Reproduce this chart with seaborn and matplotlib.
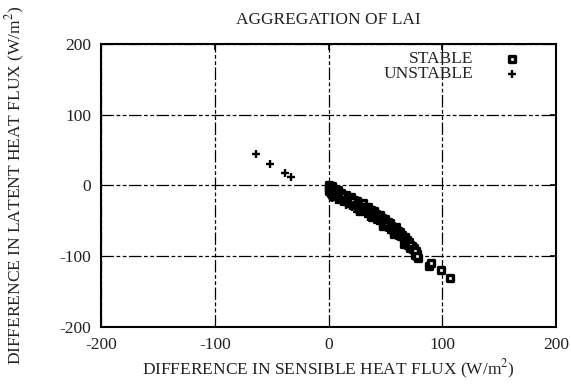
import matplotlib
matplotlib.use("Agg")
import matplotlib.pyplot as plt
import seaborn as sns
import pandas as pd

# ---- data ----
unstable_x = [-64, -51, -38, -33, 1, 2, 4, 6, 8, 10, 12, 14, 16, 18, 20, 22, 24, 26, 28, 31,
              33, 36, 38, 41, 44, 47, 50, 53, 56, 59, 62, 65, 3, 7, 11, 15, 19, 25, 35, 45, 55,
              5, 9, 13, 21, 29, 39, 49, 60, 68]
unstable_y = [45, 31, 17, 12, -3, -6, -9, -12, -13, -17, -18, -21, -22, -25, -26, -28, -30, -33, -34, -35,
              -38, -40, -42, -44, -47, -50, -53, -57, -60, -64, -68, -72, -17, -20, -23, -27, -29, -38, -45, -55, -67,
              -14, -18, -24, -30, -38, -46, -58, -71, -82]

stable_x = [0, 1, 2, 3, 5, 6, 8, 9, 11, 13, 15, 17, 20, 22, 25, 27, 30, 32, 35, 37,
            40, 42, 45, 47, 50, 52, 54, 57, 59, 61, 63, 65, 67, 69, 71, 73, 75, 77, 79,
            0, 2, 4, 10, 18, 28, 38, 48, 58, 66, 72, 76, 88, 90, 99, 107,
            1, 7, 14, 23, 33, 43, 53, 62, 70, 78,
            0, 3, 6, 9, 12, 16, 19, 21, 24, 26, 29, 31, 34, 36, 39, 41, 44, 46, 49, 51,
            55, 56, 58, 60, 64, 66, 68, 70, 72, 74, 76, 78]
stable_y = [0, -2, -4, -1, -5, -8, -7, -11, -10, -14, -13, -17, -16, -20, -22, -26, -25, -30, -31, -35,
            -36, -40, -41, -46, -47, -52, -53, -58, -59, -64, -66, -70, -73, -77, -80, -85, -88, -93, -103,
            -8, -11, -15, -19, -25, -36, -45, -57, -68, -83, -88, -98, -114, -109, -119, -131,
            -5, -12, -19, -27, -36, -47, -58, -70, -84, -97,
            -4, -7, -10, -14, -15, -20, -22, -22, -27, -29, -31, -34, -36, -37, -40, -42, -45, -48, -50, -53,
            -57, -62, -63, -67, -71, -74, -78, -81, -84, -90, -93, -99]

ticks = [-200, -100, 0, 100, 200]
tick_labels = ["-200", "-100", "0", "100", "200"]

title = "AGGREGATION OF LAI"
xlabel = "DIFFERENCE IN SENSIBLE HEAT FLUX (W/m$^2$)"
ylabel = "DIFFERENCE IN LATENT HEAT FLUX (W/m$^2$)"

stable_df = pd.DataFrame({"x": stable_x, "y": stable_y})
unstable_df = pd.DataFrame({"x": unstable_x, "y": unstable_y})

# ---- style ----
sns.set_style("white")
plt.rcParams["font.family"] = ["Liberation Serif", "DejaVu Serif"]
plt.rcParams["mathtext.fontset"] = "stix"
FS = 12.5
TXT = "#222222"

W, H = 571, 385
L, R, T, B = 101, 556, 44, 327
fig = plt.figure(figsize=(W / 100, H / 100), dpi=100)
ax = fig.add_axes([L / W, 1 - B / H, (R - L) / W, (B - T) / H])
aw, ah = R - L, B - T

sns.scatterplot(data=stable_df, x="x", y="y", ax=ax, marker="s", s=13,
                color="white", edgecolor="black", linewidth=2.4, label="STABLE", zorder=3)
sns.scatterplot(data=unstable_df, x="x", y="y", ax=ax, marker="+", s=38,
                color="black", linewidth=1.7, label="UNSTABLE", zorder=4)

ax.set_xlim(-200, 200)
ax.set_ylim(-200, 200)
ax.set_xticks(ticks)
ax.set_xticklabels(tick_labels)
ax.set_yticks(ticks)
ax.set_yticklabels(tick_labels)
ax.tick_params(direction="in", length=4, width=1.2, colors="black",
               labelcolor=TXT, labelsize=FS, top=True, right=True, pad=7)

ax.grid(True, color="black", linewidth=0.9, linestyle=(0, (10, 2, 3, 2, 3, 2)), zorder=0)
ax.set_axisbelow(True)
for sp in ax.spines.values():
    sp.set_color("black")
    sp.set_linewidth(1.5)

ax.set_title(title, fontsize=FS, color=TXT, y=1 + (T - 20) / ah, pad=0, va="center")
ax.set_xlabel(xlabel, fontsize=FS, color=TXT)
ax.xaxis.set_label_coords(0.5, -(369 - B) / ah)
ax.xaxis.label.set_va("center")
ax.set_ylabel(ylabel, fontsize=FS, color=TXT)
ax.yaxis.set_label_coords(-(L - 15) / aw, 0.5)
ax.yaxis.label.set_va("center")

leg = ax.legend(loc="upper right", bbox_to_anchor=((525 - L) / aw, (B - 51) / ah), frameon=False,
                markerfirst=False, fontsize=FS, handletextpad=1.5, handlelength=1.5,
                labelspacing=-0.05, borderpad=0, borderaxespad=0)
for t in leg.get_texts():
    t.set_color(TXT)

fig.savefig("out.png", dpi=100)
